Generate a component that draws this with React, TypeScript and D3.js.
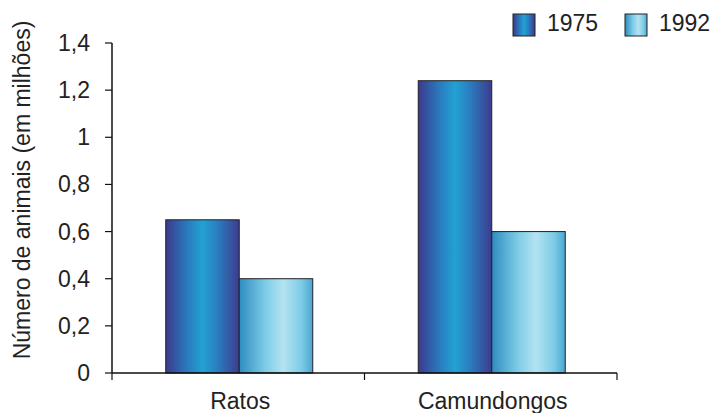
import React from "react";
import * as d3 from "d3";

const categories = ["Ratos", "Camundongos"];
const seriesNames = ["1975", "1992"];
const values1975 = [0.65, 1.24];
const values1992 = [0.4, 0.6];
const yTicks = [0, 0.2, 0.4, 0.6, 0.8, 1, 1.2, 1.4];
const yLabel = "Número de animais (em milhões)";

const W = 714;
const H = 413;
const left = 112;
const right = 617;
const top = 43;
const bottom = 373;

export default function App() {
  const x = d3.scaleBand<string>().domain(categories).range([left, right]).paddingInner(0).paddingOuter(0);
  const x1 = d3.scaleBand<string>().domain(seriesNames).range([0, 147]);
  const y = d3.scaleLinear().domain([0, 1.4]).range([bottom, top]);
  const fmt = (v: number) => String(v).replace(".", ",");
  const series = [values1975, values1992];
  const grads = ["g1975", "g1992"];
  const font = "'Liberation Sans', Arial, sans-serif";
  const fs = 23;

  return (
    <div style={{ position: "absolute", left: 0, top: 0 }}>
      <svg width={W} height={H} style={{ display: "block", background: "#fff" }}>
        <defs>
          <linearGradient id="g1975" x1="0" x2="1" y1="0" y2="0">
            <stop offset="0" stopColor="#3b3a8c" />
            <stop offset="0.3" stopColor="#2a7cc0" />
            <stop offset="0.5" stopColor="#22a2d2" />
            <stop offset="0.7" stopColor="#2a7ec0" />
            <stop offset="1" stopColor="#3d3b8e" />
          </linearGradient>
          <linearGradient id="g1992" x1="0" x2="1" y1="0" y2="0">
            <stop offset="0" stopColor="#2e8cc0" />
            <stop offset="0.35" stopColor="#7ccbe6" />
            <stop offset="0.6" stopColor="#b4e3f2" />
            <stop offset="0.85" stopColor="#7ccbe6" />
            <stop offset="1" stopColor="#4aa6d0" />
          </linearGradient>
        </defs>

        {/* bars */}
        {categories.map((c, i) => {
          const cx = (x(c) as number) + x.bandwidth() / 2 - 72.5;
          return seriesNames.map((s, j) => {
            const v = series[j][i];
            const bx = cx + (x1(s) as number);
            return (
              <rect
                key={c + s}
                x={bx}
                y={y(v)}
                width={x1.bandwidth()}
                height={y(0) - y(v)}
                fill={`url(#${grads[j]})`}
                stroke="#222"
                strokeWidth={1}
              />
            );
          });
        })}

        {/* y axis */}
        <line x1={left} x2={left} y1={top} y2={bottom} stroke="#111" strokeWidth={1.5} />
        {yTicks.map((t) => (
          <g key={t}>
            <line x1={left - 7} x2={left} y1={y(t)} y2={y(t)} stroke="#111" strokeWidth={1.2} />
            <text
              x={left - 22}
              y={y(t)}
              dy="0.35em"
              textAnchor="end"
              fontFamily={font}
              fontSize={fs}
              fill="#222"
            >
              {fmt(t)}
            </text>
          </g>
        ))}

        {/* x axis */}
        <line x1={left} x2={right} y1={bottom} y2={bottom} stroke="#111" strokeWidth={1.5} />
        {[left, left + x.bandwidth(), right].map((tx, k) => (
          <line key={k} x1={tx} x2={tx} y1={bottom} y2={bottom + 7} stroke="#111" strokeWidth={1.2} />
        ))}
        {categories.map((c) => (
          <text
            key={c}
            x={(x(c) as number) + x.bandwidth() / 2 + 2}
            y={409}
            textAnchor="middle"
            fontFamily={font}
            fontSize={fs}
            fill="#222"
          >
            {c}
          </text>
        ))}

        {/* y label */}
        <text
          transform={`translate(30, 190) rotate(-90)`}
          textAnchor="middle"
          fontFamily={font}
          fontSize={fs}
          fill="#222"
        >
          {yLabel}
        </text>

        {/* legend */}
        {seriesNames.map((s, j) => {
          const lx = 513 + j * 112;
          return (
            <g key={s}>
              <rect x={lx} y={14} width={22} height={22} fill={`url(#${grads[j]})`} stroke="#222" strokeWidth={1} />
              <text x={lx + 34} y={31} fontFamily={font} fontSize={fs} fill="#222">
                {s}
              </text>
            </g>
          );
        })}
      </svg>
    </div>
  );
}
